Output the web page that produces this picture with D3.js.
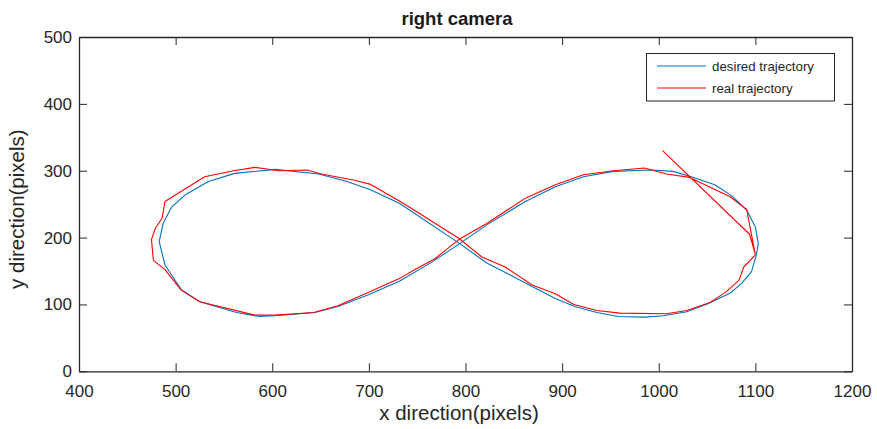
<!DOCTYPE html>
<html>
<head>
<meta charset="utf-8">
<script src="https://cdn.jsdelivr.net/npm/d3@7"></script>
<style>
  html, body { margin: 0; padding: 0; background: #fff; }
  svg { display: block; font-family: "Liberation Sans", Arial, Helvetica, sans-serif; }
</style>
</head>
<body>
<svg id="chart" width="877" height="429"></svg>
<script>
// ---- data ----
const titleText = "right camera";
const xLabelText = "x direction(pixels)";
const yLabelText = "y direction(pixels)";
const seriesNames = ["desired trajectory", "real trajectory"];
const xTicks = [400, 500, 600, 700, 800, 900, 1000, 1100, 1200];
const yTicks = [0, 100, 200, 300, 400, 500];

const desiredX = [794, 822, 862, 893, 922, 953, 991, 1015, 1036, 1058, 1076, 1091, 1100, 1103, 1101, 1096, 1086, 1074, 1051, 1029, 1005, 985, 958, 936, 913, 893, 869, 822, 794, 732, 701, 675, 648, 603, 561, 534, 510, 496, 487, 483, 489, 506, 525, 563, 587, 603, 644, 668, 699, 732, 766, 794];
const desiredY = [191, 219, 254, 276, 291, 299, 301, 299, 290, 279, 262, 241, 216, 191, 174, 149, 132, 117, 101, 89, 83, 81, 82, 88, 97, 109, 127, 162, 191, 251, 272, 285, 295, 302, 296, 284, 264, 246, 221, 194, 159, 122, 104, 88, 82, 83, 88, 97, 114, 135, 164, 191];

const realX = [1004, 1094, 1097, 1100, 1088, 1083, 1069, 1053, 1029, 1008, 960, 936, 912, 893, 869, 841, 817, 793, 736, 701, 684, 651, 636, 607, 582, 560, 530, 489, 486, 479, 475, 477, 489, 506, 525, 582, 603, 643, 668, 701, 732, 750, 768, 793, 822, 862, 893, 922, 953, 985, 1008, 1032, 1074, 1091, 1100];
const realY = [330, 205, 190, 174, 156, 136, 118, 103, 91, 86, 87, 91, 100, 116, 129, 156, 171, 199, 251, 280, 286, 295, 301, 300, 305, 300, 291, 254, 229, 214, 197, 166, 152, 121, 104, 84, 84, 88, 98, 119, 139, 154, 168, 197, 221, 259, 279, 294, 300, 304, 295, 290, 261, 242, 174];

// ---- layout ----
const svg = d3.select("#chart");
const L = 79, R = 852, T = 37, B = 371.3;
const axisColor = "#262626";
const colors = ["#0072BD", "#FF0000"];

const x = d3.scaleLinear().domain([400, 1200]).range([L, R]);
const y = d3.scaleLinear().domain([0, 500]).range([B, T]);

// box background
svg.append("rect").attr("x", L).attr("y", T).attr("width", R - L).attr("height", B - T)
  .attr("fill", "#fff");

// lines
const line = d3.line().x(d => x(d[0])).y(d => y(d[1]));
const desired = desiredX.map((v, i) => [v, desiredY[i]]);
const real = realX.map((v, i) => [v, realY[i]]);
const plot = svg.append("g");
plot.append("path").datum(desired).attr("d", line)
  .attr("fill", "none").attr("stroke", colors[0]).attr("stroke-width", 1.1).attr("stroke-linejoin", "round");
plot.append("path").datum(real).attr("d", line)
  .attr("fill", "none").attr("stroke", colors[1]).attr("stroke-width", 1.1).attr("stroke-linejoin", "round");

// axes
function styleAxis(g) {
  g.selectAll(".domain").attr("stroke", axisColor).attr("stroke-width", 1.3);
  g.selectAll(".tick line").attr("stroke", axisColor).attr("stroke-width", 1);
  g.selectAll(".tick text").attr("fill", axisColor).attr("font-size", 17)
    .attr("font-family", "'Liberation Sans', Arial, sans-serif");
}
svg.append("g").attr("transform", `translate(0,${B})`)
  .call(d3.axisBottom(x).tickValues(xTicks).tickSizeInner(-8).tickSizeOuter(0).tickPadding(14).tickFormat(d3.format("d")))
  .call(styleAxis);
svg.append("g").attr("transform", `translate(${L},0)`)
  .call(d3.axisLeft(y).tickValues(yTicks).tickSizeInner(-8).tickSizeOuter(0).tickPadding(7).tickFormat(d3.format("d")))
  .call(styleAxis);
svg.append("g").attr("transform", `translate(0,${T})`)
  .call(d3.axisTop(x).tickValues(xTicks).tickSizeInner(-8).tickSizeOuter(0).tickFormat(""))
  .call(styleAxis);
svg.append("g").attr("transform", `translate(${R},0)`)
  .call(d3.axisRight(y).tickValues(yTicks).tickSizeInner(-8).tickSizeOuter(0).tickFormat(""))
  .call(styleAxis);

// title & labels
svg.append("text").attr("x", 457).attr("y", 25).attr("text-anchor", "middle")
  .attr("font-size", 18.5).attr("font-weight", "bold").attr("fill", "#1a1a1a").text(titleText);
svg.append("text").attr("x", 459).attr("y", 420).attr("text-anchor", "middle")
  .attr("font-size", 20.5).attr("fill", axisColor).text(xLabelText);
svg.append("text").attr("transform", `translate(24,${(T + B) / 2 + 5}) rotate(-90)`).attr("text-anchor", "middle")
  .attr("font-size", 20.5).attr("fill", axisColor).text(yLabelText);

// legend
const lg = svg.append("g");
lg.append("rect").attr("x", 646.5).attr("y", 53.5).attr("width", 188).attr("height", 47.5)
  .attr("fill", "#fff").attr("stroke", axisColor).attr("stroke-width", 1);
seriesNames.forEach((name, i) => {
  const yy = 66 + i * 22;
  lg.append("line").attr("x1", 657).attr("x2", 706).attr("y1", yy).attr("y2", yy)
    .attr("stroke", colors[i]).attr("stroke-width", 1.1);
  lg.append("text").attr("x", 712).attr("y", yy + 4.5).attr("font-size", 13.3)
    .attr("fill", axisColor).text(name);
});
</script>
</body>
</html>
